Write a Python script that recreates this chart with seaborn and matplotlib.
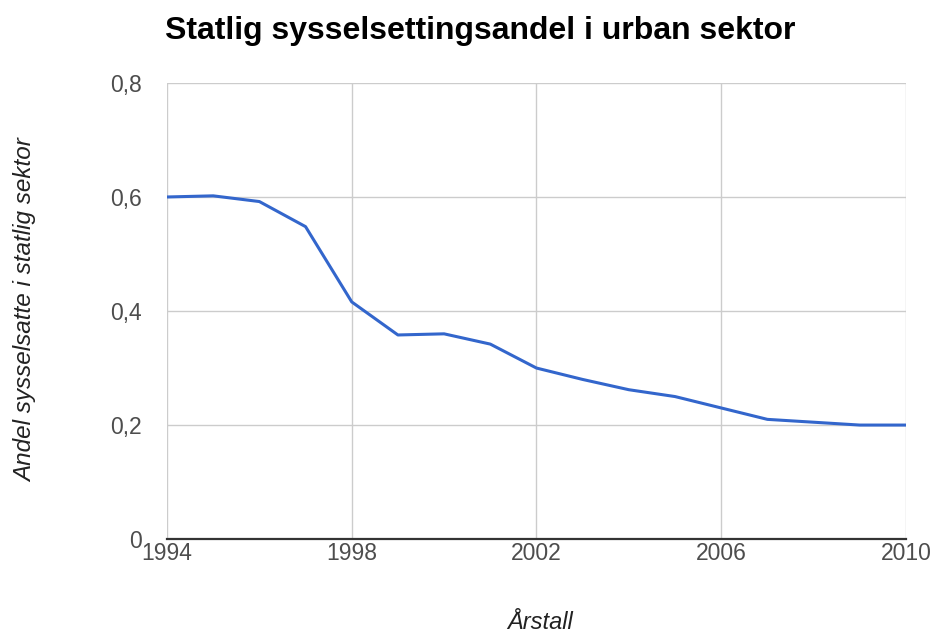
import matplotlib
matplotlib.use("Agg")
import matplotlib.pyplot as plt
import seaborn as sns
import pandas as pd

years = [1994, 1995, 1996, 1997, 1998, 1999, 2000, 2001, 2002,
         2003, 2004, 2005, 2006, 2007, 2008, 2009, 2010]
andel = [0.600, 0.602, 0.592, 0.548, 0.416, 0.358, 0.360, 0.342, 0.300,
         0.280, 0.262, 0.250, 0.230, 0.210, 0.205, 0.200, 0.200]
x_ticks = [1994, 1998, 2002, 2006, 2010]
y_ticks = [0, 0.2, 0.4, 0.6, 0.8]
y_tick_labels = ["0", "0,2", "0,4", "0,6", "0,8"]

title = "Statlig sysselsettingsandel i urban sektor"
x_label = "Årstall"
y_label = "Andel sysselsatte i statlig sektor"

sns.set_theme(style="white")
plt.rcParams["font.family"] = ["Liberation Sans", "DejaVu Sans"]

df = pd.DataFrame({"År": years, "Andel": andel})

fig = plt.figure(figsize=(9.36, 6.38), dpi=100)
ax = fig.add_axes([0.1784, 0.155, 0.7895, 0.715])

sns.lineplot(data=df, x="År", y="Andel", ax=ax, color="#3366cc",
             linewidth=2.2, zorder=3)

ax.set_xlim(1994, 2010)
ax.set_ylim(0, 0.8)
ax.set_xticks(x_ticks)
ax.set_xticklabels([str(t) for t in x_ticks])
ax.set_yticks(y_ticks)
ax.set_yticklabels(y_tick_labels)
ax.grid(True, color="#cccccc", linewidth=1.0, zorder=0)
for s in ["top", "right", "left"]:
    ax.spines[s].set_visible(False)
ax.spines["bottom"].set_color("#333333")
ax.spines["bottom"].set_linewidth(1.6)
ax.spines["bottom"].set_zorder(4)
ax.tick_params(axis="both", length=0, labelsize=16.5, labelcolor="#4d4d4d")
ax.tick_params(axis="x", pad=2)
ax.tick_params(axis="y", pad=18)
ax.set_xlabel("")
ax.set_ylabel("")

fig.text(0.176, 0.939, title, fontsize=23, fontweight="bold", color="#000000",
         ha="left", va="baseline")
fig.text(0.577, 0.024, x_label, fontsize=17, style="italic", color="#222222",
         ha="center", va="center")
fig.text(0.027, 0.514, y_label, fontsize=17.5, style="italic", color="#222222",
         ha="center", va="center", rotation=90)

fig.savefig("out.png", dpi=100)
